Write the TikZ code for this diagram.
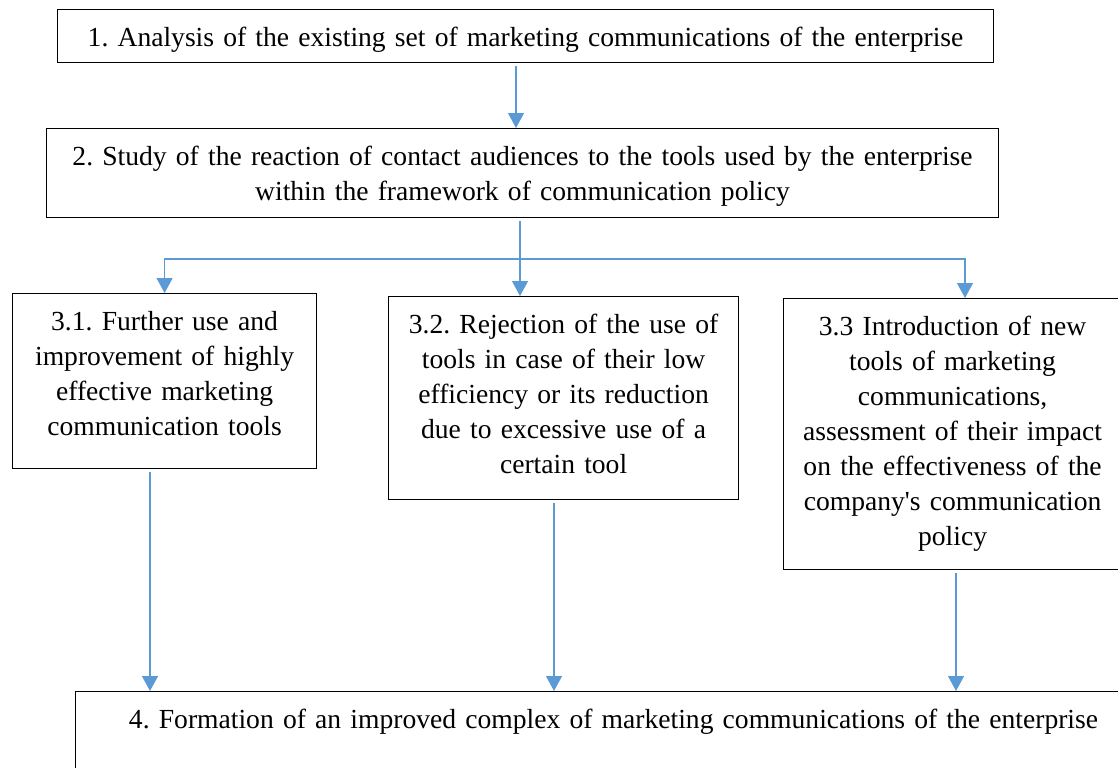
\documentclass[tikz,border=0pt]{standalone}
\usepackage{fontspec}
\setmainfont{Liberation Serif}
\usepackage{tikz}
\usetikzlibrary{arrows.meta,positioning}
\definecolor{flowblue}{RGB}{91,155,213}
\frenchspacing
\tikzset{
  stage/.style={draw=black, line width=0.7pt, anchor=north west, align=center,
    inner xsep=0pt, inner ysep=0pt, text height=0.74cm,
    font=\fontsize{15.7}{19.9}\selectfont},
  flow/.style={draw=flowblue, line width=0.7pt, shorten <=0.06cm,
    -{Triangle[length=0.3cm,width=0.32cm]}},
}
\begin{document}
\begin{tikzpicture}[x=0.02cm, y=-0.02cm]
  \useasboundingbox (0,0) rectangle (1118,767);
  \clip (0,0) rectangle (1118,767);

  % Step 1 and 2
  \node[stage, text width=18.72cm, text depth=0.32cm] (analysis) at (57,9)
    {1. Analysis of the existing set of marketing communications of the enterprise};
  \node[stage, text width=19.04cm, text depth=1.04cm] (study) at (46,128)
    {2. Study of the reaction of contact audiences to the tools used by the enterprise\\within the framework of communication policy};

  % Step 3: three branches
  \node[stage, text width=6.08cm, text depth=2.76cm] (further) at (12,293)
    {3.1. Further use and\\improvement of highly\\effective marketing\\communication tools};
  \node[stage, text width=7.0cm, text depth=3.32cm] (reject) at (388,296)
    {3.2. Rejection of the use of\\tools in case of their low\\efficiency or its reduction\\due to excessive use of a\\certain tool};
  \node[stage, text width=6.76cm, text depth=4.68cm] (intro) at (783,298)
    {3.3 Introduction of new\\tools of marketing\\communications,\\assessment of their impact\\on the effectiveness of the\\company\textquotesingle s communication\\policy};

  % Step 4
  \node[stage, text width=21.52cm, text depth=1.46cm] (formation) at (75,691)
    {4. Formation of an improved complex of marketing communications of the enterprise};

  % Connectors
  \draw[flow] (516,0 |- analysis.south) -- (516,0 |- study.north);
  \coordinate (split) at (520,259);
  \draw[flow] (520,0 |- study.south) -- (520,0 |- reject.north);
  \draw[flow, shorten <=0pt] (split) -| (further.north);
  \draw[flow, shorten <=0pt] (split) -| (965,0 |- intro.north);

  \draw[flow] (150,0 |- further.south) -- (150,0 |- formation.north);
  \draw[flow] (554,0 |- reject.south) -- (554,0 |- formation.north);
  \draw[flow] (956,0 |- intro.south) -- (956,0 |- formation.north);
\end{tikzpicture}
\end{document}
